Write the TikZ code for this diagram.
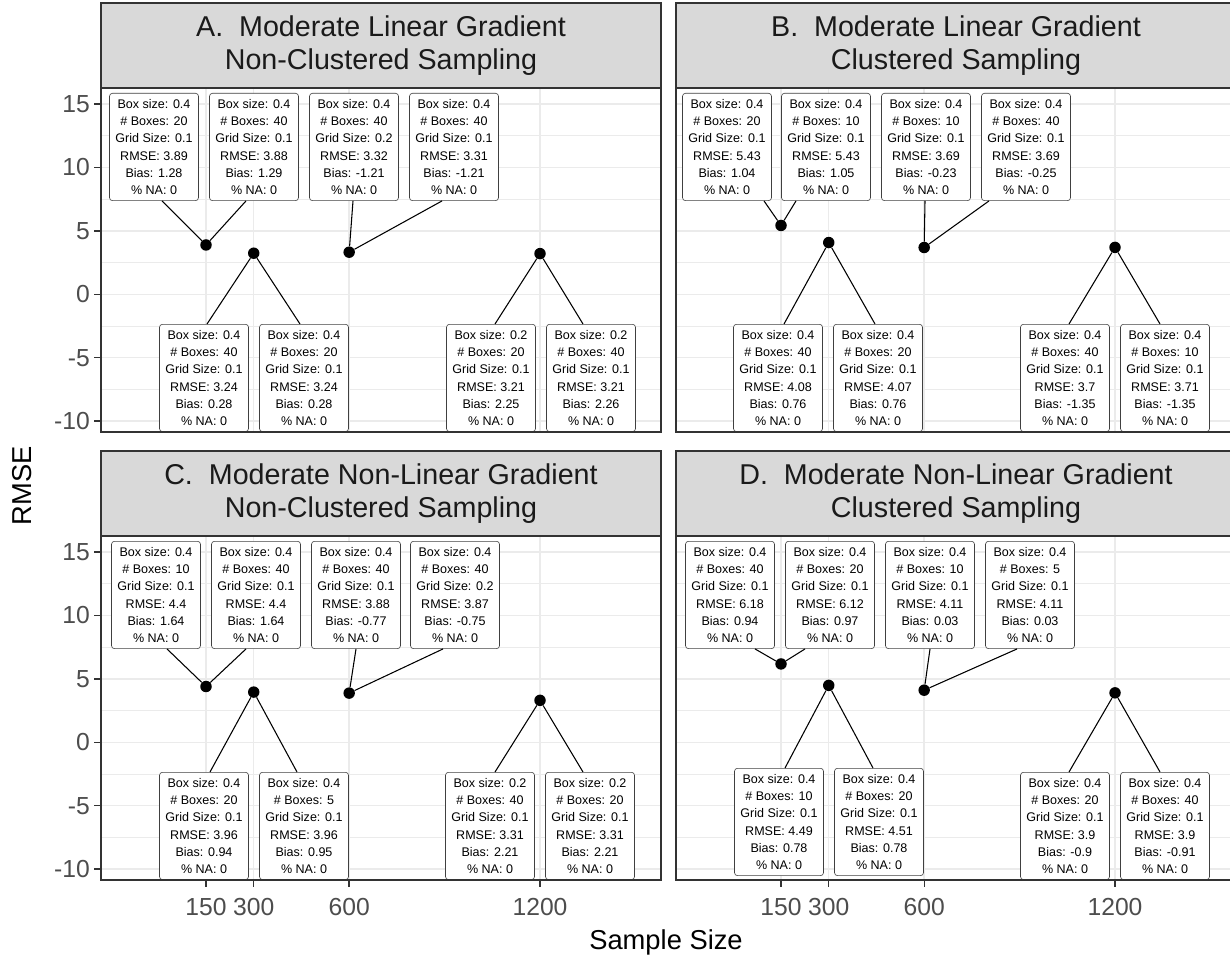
\documentclass[tikz,border=0pt]{standalone}
\usepackage{fontspec}
\setmainfont{Liberation Sans}
\usetikzlibrary{calc}

\definecolor{gris10}{HTML}{1A1A1A}
\definecolor{gris20}{HTML}{333333}
\definecolor{gris30}{HTML}{4D4D4D}
\definecolor{gris85}{HTML}{D9D9D9}
\definecolor{gris92}{HTML}{EBEBEB}

\tikzset{
  etiq/.style={draw=black!75, line width=0.45pt, rounded corners=2.2pt, fill=white,
    align=center, inner sep=0pt, minimum width=66.75pt, minimum height=80.5pt,
    font=\fontsize{9.4}{13}\selectfont},
  rond/.style={circle, fill=black, inner sep=0pt, minimum size=8.6pt},
  lien/.style={line width=0.8pt},
  majeure/.style={gris92, line width=1.1pt},
  mineure/.style={gris92, line width=0.55pt},
  bandeau/.style={draw=gris20, fill=gris85, line width=1pt, minimum width=420pt,
    minimum height=63.75pt, align=center, text=gris10,
    font=\fontsize{21.5}{24.75}\selectfont},
  cadre/.style={draw=gris20, line width=1pt},
  graduation/.style={text=gris30, font=\fontsize{18.5}{22}\selectfont, inner sep=0pt},
  titre/.style={font=\fontsize{20.5}{24}\selectfont, inner sep=0pt}
}

% grille d'un panneau
\newcommand{\grille}{%
  \foreach \v in {12.5,7.5,2.5,-2.5,-7.5}
    \draw[mineure] (101,{\yz-\v*\ky}) -- (661,{\yz-\v*\ky});
  \foreach \v in {15,10,...,-10}
    \draw[majeure] (101,{\yz-\v*\ky}) -- (661,{\yz-\v*\ky});
  \foreach \s in {150,300,600,1200}
    \draw[majeure] ({\xz+\s*\kx},88) -- ({\xz+\s*\kx},432);
}

% étiquettes et segments
\newcommand{\etiquettes}[1]{%
  \foreach \n/\cx/\cy/\ancre/\cible/\dx/\tb/\nb/\tg/\er/\bia in {#1} {
    \node[etiq, anchor=north] (\n) at (\cx,\cy)
      {Box size: \tb\\\# Boxes: \nb\\Grid Size: \tg\\RMSE: \er\\Bias: \bia\\\% NA: 0};
    \draw[lien] (\cible) -- ($(\n.\ancre)+(\dx,0)$);
  }%
}

\begin{document}
\begin{tikzpicture}[x=0.75pt, y=-0.75pt]
  \useasboundingbox (0,0) rectangle (1230,962);
  % Échelles
  \def\xz{158.3} \def\kx{0.3181}
  \def\yz{294.3} \def\ky{12.68}

  % Panneau A
  \begin{scope}
    \grille
    \foreach \s/\r in {150/3.89,300/3.24,600/3.32,1200/3.21}
      \node[rond] (A\s) at ({\xz+\s*\kx},{\yz-\r*\ky}) {};
    \etiquettes{A1/154/93/south/A150/8/0.4/20/0.1/3.89/1.28,
      A2/254/93/south/A150/-8/0.4/40/0.1/3.88/1.29,
      A3/354/93/south/A600/-1/0.4/40/0.2/3.32/-1.21,
      A4/454/93/south/A600/-12/0.4/40/0.1/3.31/-1.21,
      A5/204/324/north/A300/3/0.4/40/0.1/3.24/0.28,
      A6/304/324/north/A300/-4/0.4/20/0.1/3.24/0.28,
      A7/491/324/north/A1200/4/0.2/20/0.1/3.21/2.25,
      A8/591/324/north/A1200/-8/0.2/40/0.1/3.21/2.26}
    \draw[cadre] (101,88) rectangle (661,432);
    \node[bandeau] (sA) at (381,45.5) {A.\ \ Moderate Linear Gradient\\Non-Clustered Sampling};
    \foreach \v in {15,10,...,-10} {
      \draw[gris20, line width=1pt] (94,{\yz-\v*\ky}) -- (101,{\yz-\v*\ky});
      \node[graduation, anchor=east] (yA\v) at (90,{\yz-\v*\ky}) {\v};
    }
  \end{scope}

  % Panneau B
  \begin{scope}[shift={(575,0)}]
    \grille
    \foreach \s/\r in {150/5.43,300/4.08,600/3.69,1200/3.70}
      \node[rond] (B\s) at ({\xz+\s*\kx},{\yz-\r*\ky}) {};
    \etiquettes{B1/152/93/south/B150/37/0.4/20/0.1/5.43/1.04,
      B2/251/93/south/B150/-30/0.4/10/0.1/5.43/1.05,
      B3/351/93/south/B600/-1/0.4/10/0.1/3.69/-0.23,
      B4/451/93/south/B600/-37/0.4/40/0.1/3.69/-0.25,
      B5/203/324/north/B300/6/0.4/40/0.1/4.08/0.76,
      B6/303/324/north/B300/-3/0.4/20/0.1/4.07/0.76,
      B7/490/324/north/B1200/4/0.4/40/0.1/3.7/-1.35,
      B8/590/324/north/B1200/-5/0.4/10/0.1/3.71/-1.35}
    \draw[cadre] (101,88) rectangle (661,432);
    \node[bandeau] (sB) at (381,45.5) {B.\ \ Moderate Linear Gradient\\Clustered Sampling};
  \end{scope}

  % Panneau C
  \begin{scope}[shift={(0,448)}]
    \grille
    \foreach \s/\r in {150/4.4,300/3.96,600/3.88,1200/3.31}
      \node[rond] (C\s) at ({\xz+\s*\kx},{\yz-\r*\ky}) {};
    \etiquettes{C1/156/93/south/C150/11/0.4/10/0.1/4.4/1.64,
      C2/256/93/south/C150/-10/0.4/40/0.1/4.4/1.64,
      C3/356/93/south/C600/0/0.4/40/0.1/3.88/-0.77,
      C4/455/93/south/C600/-12/0.4/40/0.2/3.87/-0.75,
      C5/204/324/north/C300/6/0.4/20/0.1/3.96/0.94,
      C6/304/324/north/C300/-7/0.4/5/0.1/3.96/0.95,
      C7/490/324/north/C1200/5/0.2/40/0.1/3.31/2.21,
      C8/590/324/north/C1200/-7/0.2/20/0.1/3.31/2.21}
    \draw[cadre] (101,88) rectangle (661,432);
    \node[bandeau] (sC) at (381,45.5) {C.\ \ Moderate Non-Linear Gradient\\Non-Clustered Sampling};
    \foreach \v in {15,10,...,-10} {
      \draw[gris20, line width=1pt] (94,{\yz-\v*\ky}) -- (101,{\yz-\v*\ky});
      \node[graduation, anchor=east] (yC\v) at (90,{\yz-\v*\ky}) {\v};
    }
    \foreach \s in {150,300,600,1200} {
      \draw[gris20, line width=1pt] ({\xz+\s*\kx},432) -- ({\xz+\s*\kx},439);
      \node[graduation, anchor=base] (xC\s) at ({\xz+\s*\kx},467) {\s};
    }
  \end{scope}

  % Panneau D
  \begin{scope}[shift={(575,448)}]
    \grille
    \foreach \s/\r in {150/6.18,300/4.49,600/4.11,1200/3.9}
      \node[rond] (D\s) at ({\xz+\s*\kx},{\yz-\r*\ky}) {};
    \etiquettes{D1/155/93/south/D150/25/0.4/40/0.1/6.18/0.94,
      D2/255/93/south/D150/-25/0.4/20/0.1/6.12/0.97,
      D3/355/93/south/D600/0/0.4/10/0.1/4.11/0.03,
      D4/455/93/south/D600/-13/0.4/5/0.1/4.11/0.03,
      D5/204/320/north/D300/6/0.4/10/0.1/4.49/0.78,
      D6/304/320/north/D300/-6/0.4/20/0.1/4.51/0.78,
      D7/490/324/north/D1200/4/0.4/20/0.1/3.9/-0.9,
      D8/590/324/north/D1200/-5/0.4/40/0.1/3.9/-0.91}
    \draw[cadre] (101,88) rectangle (661,432);
    \node[bandeau] (sD) at (381,45.5) {D.\ \ Moderate Non-Linear Gradient\\Clustered Sampling};
    \foreach \s in {150,300,600,1200} {
      \draw[gris20, line width=1pt] ({\xz+\s*\kx},432) -- ({\xz+\s*\kx},439);
      \node[graduation, anchor=base] (xD\s) at ({\xz+\s*\kx},467) {\s};
    }
  \end{scope}

  % Titres des axes
  \node[titre] (tx) at (666,942) {Sample Size};
  \node[titre, rotate=90] (ty) at (22,486) {RMSE};
\end{tikzpicture}
\end{document}
